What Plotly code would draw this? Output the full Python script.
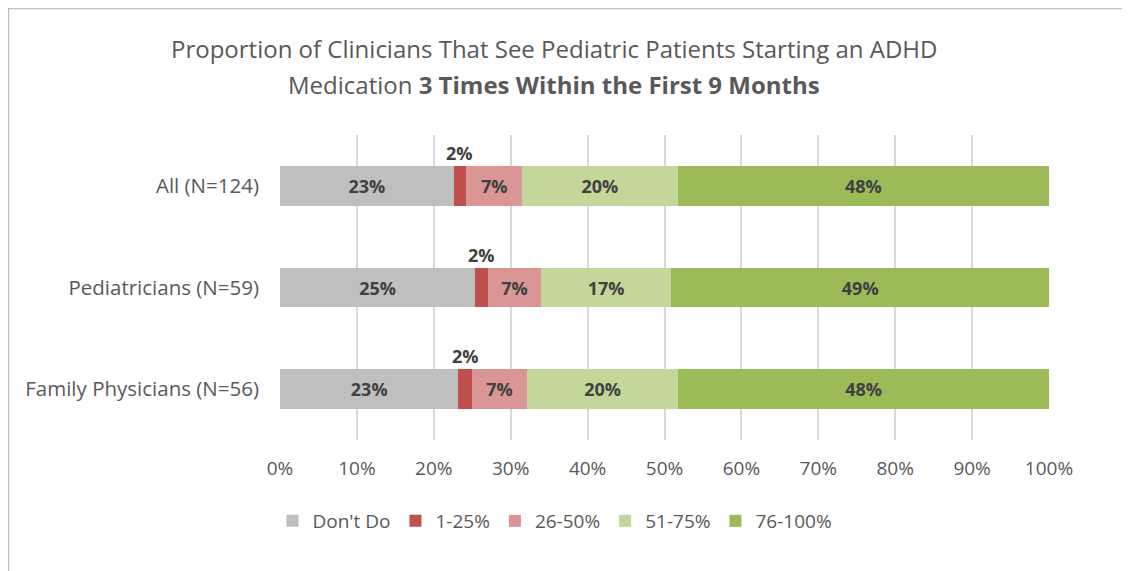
import plotly.graph_objects as go

categories = ["All (N=124)", "Pediatricians (N=59)", "Family Physicians (N=56)"]
series_names = ["Don't Do", "1-25%", "26-50%", "51-75%", "76-100%"]
dont_do = [22.6, 25.4, 23.2]
p1_25 = [1.6, 1.7, 1.8]
p26_50 = [7.3, 6.8, 7.1]
p51_75 = [20.2, 17.0, 19.7]
p76_100 = [48.3, 49.1, 48.2]
tick_vals = [0, 10, 20, 30, 40, 50, 60, 70, 80, 90, 100]
tick_text = ["0%", "10%", "20%", "30%", "40%", "50%", "60%", "70%", "80%", "90%", "100%"]
title_line1 = "Proportion of Clinicians That See Pediatric Patients Starting an ADHD"
title_line2 = "Medication <b>3 Times Within the First 9 Months</b>"

colors = ["#bfbfbf", "#c0504d", "#da9694", "#c4d79b", "#9bbb59"]
series = [dont_do, p1_25, p26_50, p51_75, p76_100]

FONT = "Open Sans"
# figure geometry (page has 8px body margin)
W, H = 1122, 563
ML, MR, MT, MB = 272, 81, 127, 131
PW, PH = W - ML - MR, H - MT - MB

fig = go.Figure()
for name, vals, col in zip(series_names, series, colors):
    show_text = name != "1-25%"
    fig.add_trace(go.Bar(
        y=categories, x=vals, name=name, orientation="h",
        marker=dict(color=col, line=dict(width=0)),
        text=[f"{round(v)}%" for v in vals] if show_text else None,
        textposition="inside" if show_text else "none",
        insidetextanchor="middle",
        textfont=dict(family=FONT, size=18, color="#404040", weight="bold"),
        hoverinfo="skip",
    ))

# labels for small segment above the bar
for cat, a, b in zip(categories, dont_do, p1_25):
    fig.add_annotation(x=a + b / 2, y=cat, text=f"<b>{round(b)}%</b>", showarrow=False,
                       yshift=33, font=dict(family=FONT, size=18, color="#404040"))

# title lines
fig.add_annotation(xref="paper", yref="paper", x=(553.5 - 280) / PW, y=1 + 87 / PH,
                   xanchor="center", yanchor="middle", showarrow=False, text=title_line1,
                   font=dict(family=FONT, size=24, color="#595959"))
fig.add_annotation(xref="paper", yref="paper", x=(554 - 280) / PW, y=1 + 51 / PH,
                   xanchor="center", yanchor="middle", showarrow=False, text=title_line2,
                   font=dict(family=FONT, size=24, color="#595959"))

fig.update_layout(
    barmode="stack",
    width=W, height=H,
    margin=dict(l=ML, r=MR, t=MT, b=MB),
    paper_bgcolor="white", plot_bgcolor="white",
    bargap=0.61,
    xaxis=dict(range=[0, 100], tickvals=tick_vals, ticktext=tick_text,
               showgrid=True, gridcolor="#d9d9d9", gridwidth=1.5, zeroline=False,
               showline=False, ticks="", ticklabelstandoff=15,
               tickfont=dict(family=FONT, size=19, color="#595959")),
    yaxis=dict(autorange="reversed", showgrid=False, showline=False, ticks="",
               ticklabelstandoff=20,
               tickfont=dict(family=FONT, size=20.5, color="#595959")),
    legend=dict(orientation="h", x=(555 - 280) / PW, xanchor="center", y=-81 / PH, yanchor="middle",
                font=dict(family=FONT, size=19, color="#595959"), traceorder="normal",
                itemwidth=30),
    shapes=[dict(type="rect", xref="paper", yref="paper",
                 x0=-ML / PW + 0.5 / PW, x1=(1118 - ML) / PW, y0=-(MB + 20) / PH, y1=1 + (MT - 0.5) / PH,
                 line=dict(color="#bfbfbf", width=1.5), layer="below")],
)
fig.write_html("out.html")
